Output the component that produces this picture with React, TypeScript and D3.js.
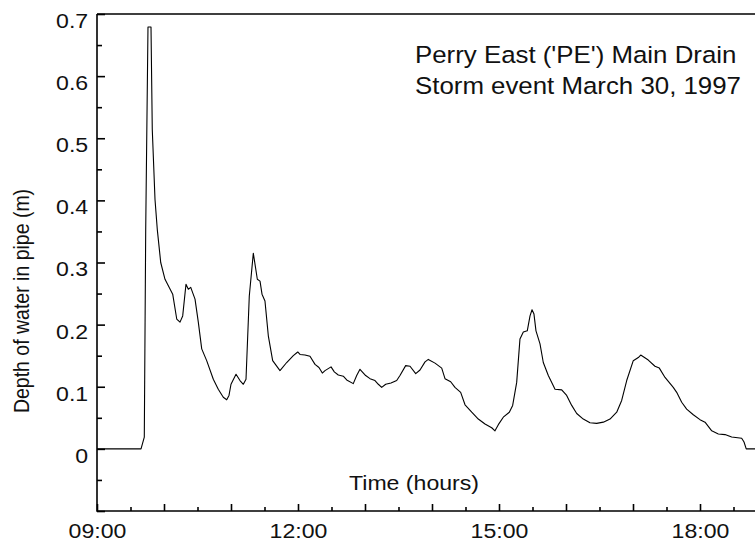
import * as d3 from "d3";
import { useRef, useEffect } from "react";

// Hours since midnight
const times = [
    9.0, 9.657, 9.706, 9.727, 9.761, 9.806, 9.825, 9.866, 9.9, 9.951,
    10.015, 10.13, 10.19, 10.239, 10.279, 10.328, 10.363, 10.399, 10.463, 10.512,
    10.563, 10.637, 10.736, 10.81, 10.885, 10.936, 10.97, 11.0, 11.075, 11.134,
    11.184, 11.224, 11.273, 11.333, 11.393, 11.433, 11.463, 11.507, 11.557, 11.622,
    11.731, 11.831, 11.93, 11.996, 12.03, 12.104, 12.179, 12.254, 12.313, 12.363,
    12.403, 12.493, 12.542, 12.601, 12.676, 12.727, 12.825, 12.876, 12.925, 13.01,
    13.075, 13.149, 13.199, 13.249, 13.309, 13.388, 13.473, 13.522, 13.607, 13.672,
    13.757, 13.821, 13.896, 13.945, 14.045, 14.145, 14.194, 14.279, 14.343, 14.428,
    14.493, 14.593, 14.691, 14.791, 14.891, 14.94, 14.99, 15.064, 15.154, 15.204,
    15.264, 15.313, 15.363, 15.422, 15.463, 15.493, 15.522, 15.552, 15.612, 15.661,
    15.736, 15.787, 15.836, 15.936, 16.01, 16.085, 16.16, 16.258, 16.358, 16.458,
    16.557, 16.657, 16.757, 16.831, 16.906, 17.004, 17.079, 17.115, 17.228, 17.328,
    17.393, 17.478, 17.601, 17.652, 17.727, 17.801, 17.9, 18.0, 18.075, 18.175,
    18.273, 18.373, 18.473, 18.622, 18.657, 18.69, 18.9,
];

// Depth of water in pipe (m)
const depths = [
    0.0, 0.0, 0.019, 0.353, 0.679, 0.679, 0.514, 0.401, 0.353, 0.3,
    0.273, 0.249, 0.209, 0.204, 0.214, 0.265, 0.257, 0.26, 0.241, 0.204,
    0.161, 0.142, 0.112, 0.096, 0.083, 0.079, 0.086, 0.104, 0.12, 0.11,
    0.104, 0.112, 0.246, 0.315, 0.273, 0.27, 0.249, 0.238, 0.182, 0.142,
    0.126, 0.139, 0.15, 0.156, 0.152, 0.151, 0.149, 0.136, 0.131, 0.122,
    0.126, 0.132, 0.124, 0.119, 0.117, 0.111, 0.105, 0.118, 0.128, 0.118,
    0.113, 0.11, 0.104, 0.099, 0.104, 0.106, 0.11, 0.118, 0.134, 0.133,
    0.121, 0.127, 0.14, 0.144, 0.138, 0.13, 0.113, 0.108, 0.099, 0.091,
    0.071, 0.059, 0.048, 0.04, 0.034, 0.029, 0.039, 0.051, 0.059, 0.07,
    0.107, 0.177, 0.188, 0.19, 0.214, 0.224, 0.217, 0.19, 0.169, 0.139,
    0.118, 0.107, 0.096, 0.095, 0.086, 0.07, 0.057, 0.048, 0.042, 0.041,
    0.043, 0.048, 0.059, 0.078, 0.11, 0.142, 0.147, 0.151, 0.143, 0.133,
    0.13, 0.115, 0.099, 0.091, 0.075, 0.064, 0.055, 0.047, 0.043, 0.029,
    0.024, 0.023, 0.019, 0.017, 0.011, 0.0, 0.0,
];

const yTicks = [-0.1, 0, 0.1, 0.2, 0.3, 0.4, 0.5, 0.6, 0.7];
const yMinorTicks = [-0.05, 0.05, 0.15, 0.25, 0.35, 0.45, 0.55, 0.65];
const xTicks = [9, 10, 11, 12, 13, 14, 15, 16, 17, 18];
const xMinorTicks = [9.5, 10.5, 11.5, 12.5, 13.5, 14.5, 15.5, 16.5, 17.5, 18.5];
const xLabels = ["09:00", "12:00", "15:00", "18:00"];
const titleLines = ["Perry East ('PE') Main Drain", "Storm event March 30, 1997"];

const width = 755;
const height = 543;
const left = 97;
const top = 14;
const bottom = 511;
const font = "'Liberation Sans', Arial, Helvetica, sans-serif";
const stretch = "scale(1.1,1)"; // the original lettering is a bit wide

export default function App() {
    const ref = useRef<SVGGElement>(null);

    useEffect(() => {
        document.body.style.margin = "0";
        const g = d3.select(ref.current);
        g.selectAll("*").remove();

        const x = d3.scaleLinear().domain([9, 19]).range([left, left + 670]);
        const y = d3.scaleLinear().domain([-0.1, 0.7]).range([bottom, top]);

        // frame: left axis, bottom axis, top line
        g.append("path")
            .attr("d", `M${left},${top}H${width}M${left},${top}V${bottom}H${width}`)
            .attr("fill", "none")
            .attr("stroke", "#000")
            .attr("stroke-width", 1.6);

        const yAxis = g.append("g")
            .attr("transform", `translate(${left},0)`)
            .call(d3.axisLeft(y).tickValues(yTicks).tickSize(-8).tickSizeOuter(0).tickPadding(8)
                .tickFormat(d => (+d < 0 ? "" : d3.format("~g")(+d))));
        yAxis.select(".domain").remove();
        yAxis.selectAll("line").attr("stroke-width", 1.6);
        yAxis.selectAll("text")
            .attr("dy", "0.64em")
            .attr("transform", stretch)
            .attr("font-size", 21)
            .attr("font-family", font)
            .attr("fill", "#111");

        const yMinor = g.append("g")
            .attr("transform", `translate(${left},0)`)
            .call(d3.axisLeft(y).tickValues(yMinorTicks).tickSize(-5).tickFormat(() => ""));
        yMinor.select(".domain").remove();
        yMinor.selectAll("line").attr("stroke-width", 1.6);

        const xAxis = g.append("g")
            .attr("transform", `translate(0,${bottom})`)
            .call(d3.axisBottom(x).tickValues(xTicks).tickSize(-7).tickSizeOuter(0)
                .tickFormat(d => {
                    const label = d3.format("02")(+d) + ":00";
                    return xLabels.includes(label) ? label : "";
                }));
        xAxis.select(".domain").remove();
        xAxis.selectAll("line").attr("stroke-width", 1.6);
        xAxis.selectAll("text")
            .attr("y", 27)
            .attr("dy", 0)
            .attr("transform", stretch)
            .attr("font-size", 21)
            .attr("font-family", font)
            .attr("fill", "#111");

        const xMinor = g.append("g")
            .attr("transform", `translate(0,${bottom})`)
            .call(d3.axisBottom(x).tickValues(xMinorTicks).tickSize(-4).tickFormat(() => ""));
        xMinor.select(".domain").remove();
        xMinor.selectAll("line").attr("stroke-width", 1.6);

        // depth trace
        const line = d3.line<number>()
            .x((_, i) => x(times[i]))
            .y(d => y(d));

        g.append("path")
            .datum(depths)
            .attr("d", line)
            .attr("fill", "none")
            .attr("stroke", "#000")
            .attr("stroke-width", 1.1)
            .attr("stroke-linejoin", "round");

        // labels
        g.append("text")
            .attr("transform", `translate(414,490) ${stretch}`)
            .attr("text-anchor", "middle")
            .attr("font-size", 21)
            .attr("font-family", font)
            .attr("fill", "#111")
            .text("Time (hours)");

        g.append("text")
            .attr("transform", `translate(29,301) ${stretch} rotate(-90)`)
            .attr("text-anchor", "middle")
            .attr("font-size", 19.5)
            .attr("font-family", font)
            .attr("fill", "#111")
            .text("Depth of water in pipe (m)");

        g.selectAll(".title")
            .data(titleLines)
            .join("text")
            .attr("class", "title")
            .attr("transform", (_, i) => `translate(415,${63 + i * 31}) ${stretch}`)
            .attr("font-size", 23.5)
            .attr("font-family", font)
            .attr("fill", "#111")
            .text(d => d);
    }, []);

    return (
        <svg width={width} height={height} viewBox={`0 0 ${width} ${height}`}
             style={{ display: "block", background: "#fff" }}>
            <g ref={ref}></g>
        </svg>
    );
}
